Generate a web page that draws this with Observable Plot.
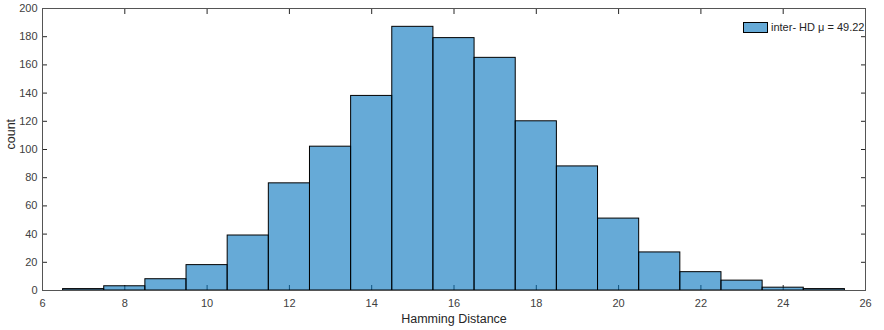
<!DOCTYPE html>
<html>
<head>
<meta charset="utf-8">
<script src="https://cdn.jsdelivr.net/npm/d3@7"></script>
<script src="https://cdn.jsdelivr.net/npm/@observablehq/plot@0.6"></script>
<style>
  html, body { margin: 0; padding: 0; background: #fff; }
  #wrap { position: relative; width: 884px; height: 330px; font-family: "Liberation Sans", Arial, sans-serif; }
  #legend { position: absolute; left: 743px; top: 21px; display: flex; align-items: center; font-size: 11px; color: #262626; white-space: nowrap; }
  #legend .sw { width: 25px; height: 11px; background: rgba(0,114,189,0.6); border: 1px solid #000; box-sizing: border-box; margin-right: 3px; }
</style>
</head>
<body>
<div id="wrap"></div>
<script>
// Bin edges (width 1) and counts per bin
const binEdges = [6.5, 7.5, 8.5, 9.5, 10.5, 11.5, 12.5, 13.5, 14.5, 15.5, 16.5, 17.5, 18.5, 19.5, 20.5, 21.5, 22.5, 23.5, 24.5, 25.5];
const counts   = [1, 3, 8, 18, 39, 76, 102, 138, 187, 179, 165, 120, 88, 51, 27, 13, 7, 2, 1];
const xTicks = [6, 8, 10, 12, 14, 16, 18, 20, 22, 24, 26];
const yTicks = [0, 20, 40, 60, 80, 100, 120, 140, 160, 180, 200];
const legendLabel = "inter- HD \u03bc = 49.22";
const xLabel = "Hamming Distance";
const yLabel = "count";

const bins = counts.map((c, i) => ({x1: binEdges[i], x2: binEdges[i + 1], count: c}));

const axisColor = "#262626";
const tickTextColor = "#404040";

const chart = Plot.plot({
  width: 884,
  height: 330,
  marginLeft: 42,
  marginRight: 19,
  marginTop: 8,
  marginBottom: 40,
  style: {fontFamily: "'Liberation Sans', Arial, sans-serif", fontSize: "11px", background: "#fff", overflow: "visible"},
  x: {domain: [6, 26]},
  y: {domain: [0, 200]},
  marks: [
    // inward ticks (drawn below the translucent bars, as in the original)
    Plot.axisX(xTicks, {anchor: "bottom", tickSize: -5, tickPadding: 14, stroke: axisColor, color: tickTextColor, fontSize: 11, label: null}),
    Plot.axisX(xTicks, {anchor: "top", tickSize: -5, tickFormat: () => "", stroke: axisColor, label: null}),
    Plot.axisY(yTicks, {anchor: "left", tickSize: -5, tickPadding: 10, stroke: axisColor, color: tickTextColor, fontSize: 11, label: null}),
    Plot.axisY(yTicks, {anchor: "right", tickSize: -5, tickFormat: () => "", stroke: axisColor, label: null}),
    Plot.rectY(bins, {x1: "x1", x2: "x2", y: "count", fill: "#0072BD", fillOpacity: 0.6, stroke: "#000", strokeWidth: 1, inset: 0}),
    Plot.frame({stroke: "#555", strokeWidth: 1}),
    Plot.text([xLabel], {frameAnchor: "bottom", dy: 32, fontSize: 12.5, fill: axisColor}),
    Plot.text([yLabel], {frameAnchor: "left", rotate: -90, dx: -32, fontSize: 12.5, fill: axisColor})
  ]
});

const wrap = document.getElementById("wrap");
wrap.appendChild(chart);
const legend = document.createElement("div");
legend.id = "legend";
legend.innerHTML = `<div class="sw"></div><span>${legendLabel}</span>`;
wrap.appendChild(legend);
</script>
</body>
</html>
